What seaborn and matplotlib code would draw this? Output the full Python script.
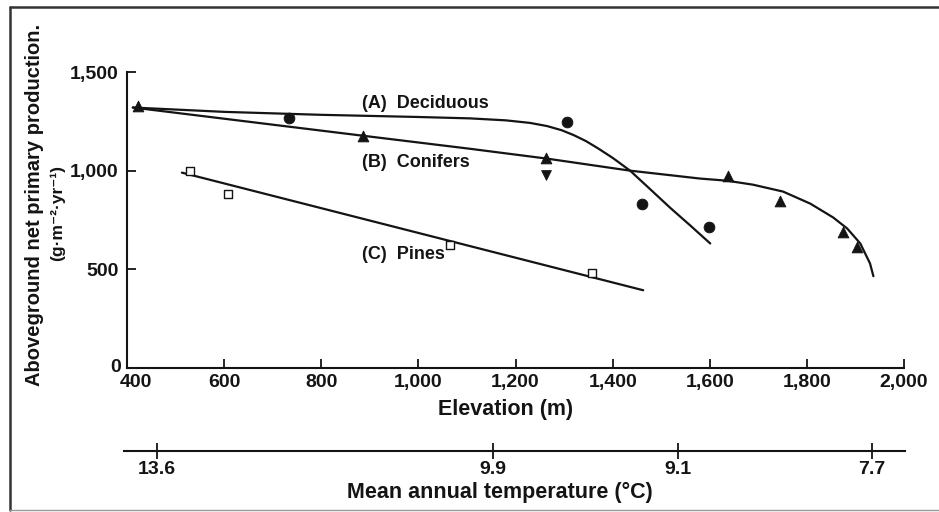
import matplotlib
matplotlib.use("Agg")
import matplotlib.pyplot as plt
from matplotlib.lines import Line2D
from matplotlib.transforms import ScaledTranslation
import seaborn as sns

# ---------------- data ----------------
# Fitted curves (elevation m, production g m-2 yr-1)
curve_a_elev = [412, 600, 800, 1000, 1106, 1180, 1230, 1265, 1295, 1320, 1345, 1370, 1400, 1436,
                1480, 1518, 1560, 1601]
curve_a_val = [1320, 1298, 1283, 1272, 1265, 1255, 1242, 1226, 1205, 1180, 1150, 1113, 1065, 1000,
               900, 813, 722, 631]

curve_b_elev = [412, 886, 1106, 1265, 1436, 1580, 1636, 1689, 1751, 1807, 1854, 1883, 1910, 1930, 1937]
curve_b_val = [1320, 1177, 1111, 1061, 1000, 960, 949, 929, 894, 833, 763, 707, 631, 530, 465]

curve_c_elev = [513, 1463]
curve_c_val = [990, 394]

# Observations
decid_elev = [734, 1306, 1461, 1599]
decid_val = [1268, 1247, 833, 712]

conif_elev = [423, 886, 1263, 1638, 1745, 1875, 1904]
conif_val = [1328, 1177, 1066, 975, 848, 687, 611]

conif2_elev = [1263]
conif2_val = [980]

pine_elev = [530, 608, 1065, 1358]
pine_val = [1000, 884, 621, 480]

# Axes ticks
elev_ticks = [400, 600, 800, 1000, 1200, 1400, 1600, 1800, 2000]
elev_labels = ["400", "600", "800", "1,000", "1,200", "1,400", "1,600", "1,800", "2,000"]
prod_ticks = [0, 500, 1000, 1500]
prod_labels = ["0", "500", "1,000", "1,500"]
temp_elev = [462, 1154, 1535, 1934]
temp_labels = ["13.6", "9.9", "9.1", "7.7"]

series_labels = ["(A)  Deciduous", "(B)  Conifers", "(C)  Pines"]

# ---------------- style ----------------
sns.set_style("ticks")
FAM = ["Liberation Sans", "DejaVu Sans"]
plt.rcParams["font.family"] = FAM
INK = "#141414"

W, H = 939, 512
fig = plt.figure(figsize=(W / 100, H / 100), dpi=100)
fig.patch.set_facecolor("white")

def fx(px):
    return px / W

def fy(py):
    return 1 - py / H

ax = fig.add_axes([fx(127), fy(368), fx(904) - fx(127), fy(72) - fy(368)])
ax.set_facecolor("white")

lw = 1.6
sns.lineplot(x=curve_a_elev, y=curve_a_val, ax=ax, color=INK, lw=lw, sort=False)
sns.lineplot(x=curve_b_elev, y=curve_b_val, ax=ax, color=INK, lw=lw, sort=False)
sns.lineplot(x=curve_c_elev, y=curve_c_val, ax=ax, color=INK, lw=lw, sort=False)

sns.scatterplot(x=decid_elev, y=decid_val, ax=ax, marker="o", s=60, color=INK, edgecolor=INK, zorder=5)
sns.scatterplot(x=conif_elev, y=conif_val, ax=ax, marker="^", s=60, color=INK, edgecolor=INK, zorder=5)
sns.scatterplot(x=conif2_elev, y=conif2_val, ax=ax, marker="v", s=50, color=INK, edgecolor=INK, zorder=5)
sns.scatterplot(x=pine_elev, y=pine_val, ax=ax, marker="s", s=28, facecolor="white", edgecolor=INK,
                linewidth=1.0, zorder=5)

ax.set_xlim(400, 2000)
ax.set_ylim(0, 1500)
ax.set_xticks(elev_ticks, elev_labels)
ax.set_yticks(prod_ticks, prod_labels)
for s in ["top", "right"]:
    ax.spines[s].set_visible(False)
for s in ["left", "bottom"]:
    ax.spines[s].set_linewidth(1.5)
    ax.spines[s].set_color(INK)
ax.tick_params(axis="both", direction="in", length=6.5, width=1.3, colors=INK, labelcolor=INK,
               labelsize=14)
ax.tick_params(axis="x", pad=4)
ax.tick_params(axis="y", pad=6)
for t in ax.get_xticklabels() + ax.get_yticklabels():
    t.set_fontweight("bold")

# nudge the "400" label right and the "0" label up, as in the reference
xl = ax.get_xticklabels()[0]
xl.set_transform(xl.get_transform() + ScaledTranslation(9 / 100, 0, fig.dpi_scale_trans))
yl = ax.get_yticklabels()[0]
yl.set_transform(yl.get_transform() + ScaledTranslation(2 / 100, 3 / 100, fig.dpi_scale_trans))

ax.set_xlabel("Elevation (m)", fontsize=15.5, fontweight="bold", color=INK, labelpad=2)
ax.xaxis.set_label_coords((506 - 127) / 777, -0.105)
ax.set_ylabel("")

# series annotations
ann_y = [1340, 1043, 575]
for lab, yv in zip(series_labels, ann_y):
    ax.text(884, yv, lab, fontsize=13, fontweight="bold", color=INK, va="center", ha="left")

# y label (two lines)
fig.text(fx(35), fy(205), "Aboveground net primary production.", rotation=90, fontsize=14.5,
         fontweight="bold", color=INK, ha="center", va="center")
fig.text(fx(57), fy(213), "(g\u00b7m\u207b\u00b2\u00b7yr\u207b\u00b9)", rotation=90, fontsize=12.5,
         fontweight="bold", color=INK, ha="center", va="center", family=FAM)

# temperature axis
ax2 = fig.add_axes([fx(124), fy(451), fx(905) - fx(124), 0.0001])
ax2.set_facecolor("none")
x0 = 400 - 3 / 0.4855
x1 = 2000 + 1 / 0.4855
ax2.set_xlim(x0, x1)
ax2.set_yticks([])
for s in ["top", "right", "left"]:
    ax2.spines[s].set_visible(False)
ax2.spines["bottom"].set_linewidth(1.5)
ax2.spines["bottom"].set_color(INK)
ax2.set_xticks(temp_elev, temp_labels)
ax2.tick_params(axis="x", direction="inout", length=11, width=1.3, colors=INK, labelcolor=INK,
                labelsize=14, pad=2)
for t in ax2.get_xticklabels():
    t.set_fontweight("bold")
fig.text(fx(500), fy(492), "Mean annual temperature (\u00b0C)", fontsize=15.5, fontweight="bold",
         color=INK, ha="center", va="center")

# outer frame (scan border)
fig.add_artist(Line2D([fx(10), fx(939)], [fy(7), fy(7)], color="#333333", lw=1.8))
fig.add_artist(Line2D([fx(10), fx(10)], [fy(7), fy(510)], color="#333333", lw=1.8))
fig.add_artist(Line2D([fx(10), fx(939)], [fy(510), fy(510)], color="#999999", lw=1.0))

fig.savefig("out.png", dpi=100, facecolor="white")
